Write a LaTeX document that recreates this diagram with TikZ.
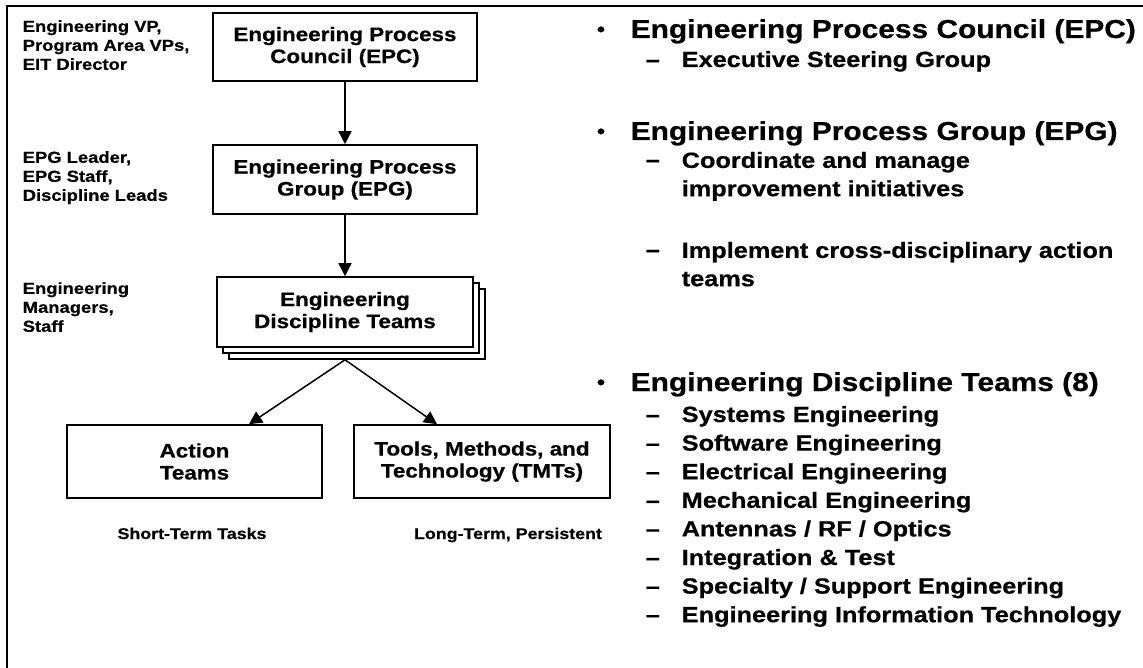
\documentclass[tikz,border=0pt]{standalone}
\usepackage{fontspec}
\setmainfont[FakeStretch=1.15,BoldFeatures={FakeBold=0.6}]{Liberation Sans}
\usetikzlibrary{arrows.meta}
\begin{document}
\begin{tikzpicture}[x=1pt,y=-1pt,
 line width=1.5pt,
 lbl/.style={font=\bfseries\fontsize{16}{19}\selectfont,align=left,anchor=north west,inner sep=0pt},
 captxt/.style={font=\bfseries\fontsize{15.5}{19}\selectfont,anchor=base,inner sep=0pt},
 orgbox/.style={draw,line width=1.6pt,fill=white,font=\bfseries\fontsize{19.5}{22}\selectfont,align=center,inner sep=0pt},
 ttl/.style={font=\bfseries\fontsize{26}{30}\selectfont,anchor=base west,inner sep=0pt},
 sub/.style={font=\bfseries\fontsize{22}{28.3}\selectfont,anchor=base west,inner sep=0pt},
 subm/.style={font=\bfseries\fontsize{22}{28.3}\selectfont,align=left,anchor=north west,inner sep=0pt},
 bul/.style={font=\bfseries\fontsize{20}{20}\selectfont,anchor=base,inner sep=0pt},
 arr/.style={-{Triangle[length=13pt,width=13pt]},line width=1.5pt},
]
\useasboundingbox (0,0) rectangle (1143,668);
\draw[line width=1.6pt] (7,668) -- (7,6) -- (1143,6);

% left labels
\node[lbl] (l1) at (22,19.5) {Engineering VP,\\Program Area VPs,\\EIT Director};
\node[lbl] (l2) at (22,150.5) {EPG Leader,\\EPG Staff,\\Discipline Leads};
\node[lbl] (l3) at (22,281.5) {Engineering\\Managers,\\Staff};

% boxes
\node[orgbox,minimum width=264pt,minimum height=68pt] (epc) at (345,47) {Engineering Process\\Council (EPC)};
\node[orgbox,minimum width=264pt,minimum height=69pt] (epg) at (345,179.5) {Engineering Process\\Group (EPG)};
\node[orgbox,minimum width=256pt,minimum height=70pt] (edt3) at (357,324) {};
\node[orgbox,minimum width=256pt,minimum height=70pt] (edt2) at (351,318) {};
\node[orgbox,minimum width=256pt,minimum height=70pt] (edt) at (345,312) {Engineering\\Discipline Teams};
\coordinate (apex) at ([xshift=-12pt]edt3.south);

\node[orgbox,minimum width=255pt,minimum height=73pt] (act) at (194.5,461.5) {Action\\Teams};
\node[orgbox,minimum width=256pt,minimum height=73pt] (tmt) at (482,461.5) {Tools, Methods, and\\Technology (TMTs)};
\node[captxt] (c1) at (192,539) {Short-Term Tasks};
\node[captxt] (c2) at (508,539) {Long-Term, Persistent};

\draw[arr] (epc.south) -- (epg.north);
\draw[arr] (epg.south) -- (edt.north);
\draw[arr] (apex) -- ([xshift=54.5pt]act.north);
\draw[arr] (apex) -- ([xshift=-45pt]tmt.north);

% right column
\node[bul] (b1) at (601,36) {•};
\node[ttl] (t1) at (630,38) {Engineering Process Council (EPC)};
\node[sub] (d1) at (645,67) {–};
\node[sub] (s1) at (681,67) {Executive Steering Group};

\node[bul] (b2) at (601,138) {•};
\node[ttl] (t2) at (630,140) {Engineering Process Group (EPG)};
\node[sub] (d2) at (645,167) {–};
\node[subm] (s2) at (681,151.2) {Coordinate and manage\\improvement initiatives};
\node[sub] (d3) at (645,257) {–};
\node[subm] (s3) at (681,241.2) {Implement cross-disciplinary action\\teams};

\node[bul] (b3) at (601,389) {•};
\node[ttl] (t3) at (630,391) {Engineering Discipline Teams (8)};
\foreach \txt [count=\i from 0] in {Systems Engineering,Software Engineering,Electrical Engineering,Mechanical Engineering,Antennas / RF / Optics,Integration \& Test,Specialty / Support Engineering,Engineering Information Technology}{
  \node[sub] (dd\i) at (645,422+28.6*\i) {–};
  \node[sub] (it\i) at (681,422+28.6*\i) {\txt};
}
\end{tikzpicture}
\end{document}
